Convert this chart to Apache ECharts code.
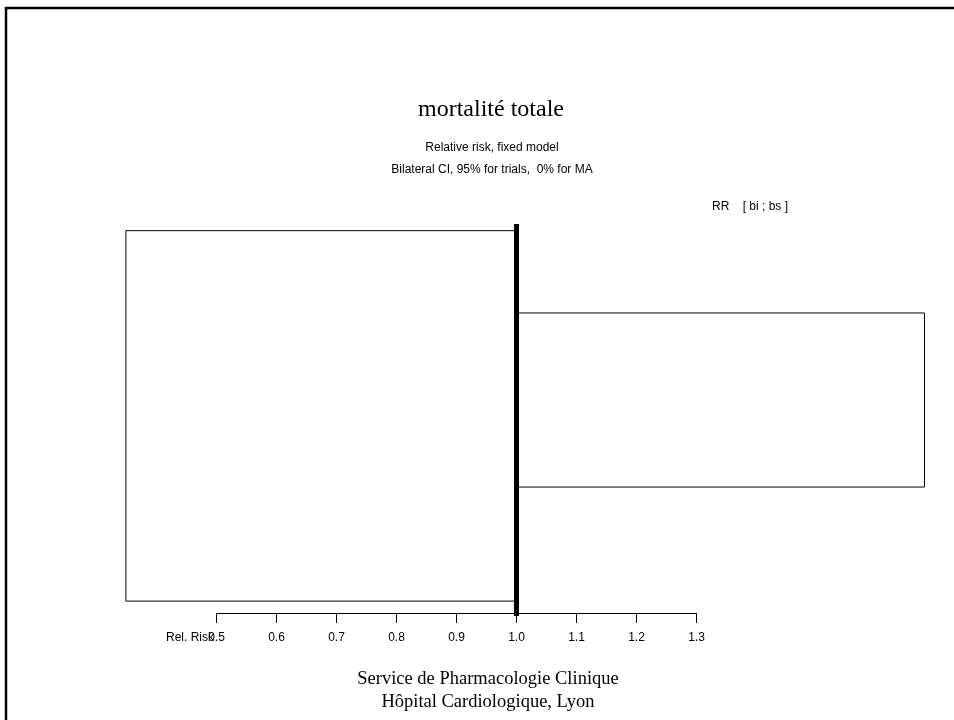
<!DOCTYPE html>
<html>
<head>
<meta charset="utf-8">
<script src="https://cdn.jsdelivr.net/npm/echarts@6/dist/echarts.min.js"></script>
<style>
html,body{margin:0;padding:0;background:#fff;}
#main{width:954px;height:720px;}
</style>
</head>
<body>
<div id="main"></div>
<script>
// ---- data ----
const boxNames = ['group 1', 'group 2'];
const rrLow = [0.349, 1.0];
const rrHigh = [1.0, 1.68];
const bandTop = [1.7, 22.7];
const bandBottom = [96.2, 67.1];
const referenceRR = 1.0;
const tickLabels = ['0.5', '0.6', '0.7', '0.8', '0.9', '1.0', '1.1', '1.2', '1.3'];
const titleText = 'mortalité totale';
const subtitle1 = 'Relative risk, fixed model';
const subtitle2 = 'Bilateral CI, 95% for trials,  0% for MA';
const headerText = 'RR    [ bi ; bs ]';
const axisName = 'Rel. Risk';
const footer1 = 'Service de Pharmacologie Clinique';
const footer2 = 'Hôpital Cardiologique, Lyon';

const SANS = '"Liberation Sans", Arial, Helvetica, sans-serif';
const SERIF = '"Liberation Serif", "Times New Roman", serif';

const chart = echarts.init(document.getElementById('main'), null, {renderer: 'canvas'});

const boxData = boxNames.map((n, i) => [rrLow[i], rrHigh[i], bandTop[i], bandBottom[i]]);

chart.setOption({
  animation: false,
  backgroundColor: '#fff',
  grid: [
    {left: 96.5, width: 840, top: 224, height: 392, containLabel: false},
    {left: 216.5, width: 480, top: 500, height: 113, containLabel: false}
  ],
  xAxis: [
    {gridIndex: 0, type: 'value', min: 0.3, max: 1.7, show: false},
    {gridIndex: 1, type: 'value', min: 0.5, max: 1.3, interval: 0.1,
      axisLine: {show: true, lineStyle: {color: '#000', width: 1}},
      axisTick: {show: true, inside: false, length: 10, lineStyle: {color: '#000', width: 1}},
      axisLabel: {show: true, margin: 19, color: '#000', fontFamily: SANS, fontSize: 12,
        formatter: (v) => { const i = Math.round((v - 0.5) * 10); return tickLabels[i] || ''; }},
      splitLine: {show: false}
    }
  ],
  yAxis: [
    {gridIndex: 0, type: 'value', min: 0, max: 100, inverse: true, show: false},
    {gridIndex: 1, type: 'value', min: 0, max: 1, show: false}
  ],
  series: [
    {
      type: 'custom',
      xAxisIndex: 0, yAxisIndex: 0,
      data: boxData,
      renderItem: function (params, api) {
        const p0 = api.coord([api.value(0), api.value(2)]);
        const p1 = api.coord([api.value(1), api.value(3)]);
        return {
          type: 'rect',
          shape: {x: p0[0], y: p0[1], width: p1[0] - p0[0], height: p1[1] - p0[1]},
          style: {fill: 'rgba(255,255,255,0)', stroke: '#000', lineWidth: 1}
        };
      }
    },
    {
      type: 'line',
      xAxisIndex: 0, yAxisIndex: 0,
      data: [[referenceRR, 0], [referenceRR, 100]],
      symbol: 'none',
      lineStyle: {color: '#000', width: 5},
      z: 5
    }
  ],
  graphic: [
    {type: 'rect', shape: {x: 6, y: 8, width: 1100, height: 900},
      style: {fill: 'none', stroke: '#000', lineWidth: 2.5}, silent: true},
    {type: 'text', x: 491, y: 110, style: {text: titleText, fontFamily: SERIF, fontSize: 24, fill: '#000', textAlign: 'center', textVerticalAlign: 'middle'}},
    {type: 'text', x: 492, y: 148, style: {text: subtitle1, fontFamily: SANS, fontSize: 12, fill: '#000', textAlign: 'center', textVerticalAlign: 'middle'}},
    {type: 'text', x: 492, y: 170, style: {text: subtitle2, fontFamily: SANS, fontSize: 12, fill: '#000', textAlign: 'center', textVerticalAlign: 'middle'}},
    {type: 'text', x: 712, y: 207, style: {text: headerText, fontFamily: SANS, fontSize: 12, fill: '#000', textAlign: 'left', textVerticalAlign: 'middle'}},
    {type: 'text', x: 214, y: 638, style: {text: axisName, fontFamily: SANS, fontSize: 12, fill: '#000', textAlign: 'right', textVerticalAlign: 'middle'}},
    {type: 'text', x: 488, y: 679, style: {text: footer1, fontFamily: SERIF, fontSize: 18.5, fill: '#000', textAlign: 'center', textVerticalAlign: 'middle'}},
    {type: 'text', x: 488, y: 702, style: {text: footer2, fontFamily: SERIF, fontSize: 18.5, fill: '#000', textAlign: 'center', textVerticalAlign: 'middle'}}
  ]
});
</script>
</body>
</html>
